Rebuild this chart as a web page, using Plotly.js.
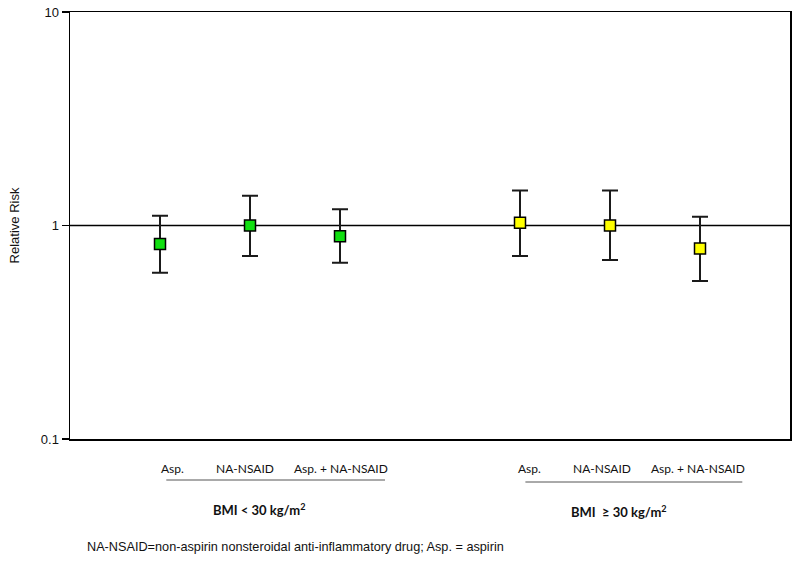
<!DOCTYPE html>
<html>
<head>
<meta charset="utf-8">
<script src="https://cdn.plot.ly/plotly-3.0.1.min.js"></script>
<style>html,body{margin:0;padding:0;background:#fff;}#chart{width:800px;height:576px;}</style>
</head>
<body>
<div id="chart"></div>
<script>
// Categories and labels
const categories = ['Asp.', 'NA-NSAID', 'Asp. + NA-NSAID'];
const groupLabels = ['BMI < 30 kg/m<sup>2</sup>', 'BMI  \u2265 30 kg/m<sup>2</sup>'];
const footnote = 'NA-NSAID=non-aspirin nonsteroidal anti-inflammatory drug; Asp. = aspirin';

// BMI < 30 kg/m2
const rrLow = [0.82, 1.00, 0.89];
const ciLowLower = [0.60, 0.72, 0.67];
const ciLowUpper = [1.11, 1.38, 1.19];

// BMI >= 30 kg/m2
const rrHigh = [1.03, 1.00, 0.78];
const ciHighLower = [0.72, 0.69, 0.55];
const ciHighUpper = [1.46, 1.46, 1.10];

// y-axis ticks
const yTickVals = [0.1, 1, 10];
const yTickText = ['0.1', '1', '10'];

const xLow = [1, 2, 3];
const xHigh = [5, 6, 7];

function trace(xs, rr, lo, hi, color) {
  return {
    type: 'scatter', mode: 'markers', x: xs, y: rr,
    marker: {symbol: 'square', size: 11, color: color, line: {color: '#000', width: 1.5}},
    error_y: {
      type: 'data', symmetric: false,
      array: rr.map((v, i) => hi[i] - v),
      arrayminus: rr.map((v, i) => v - lo[i]),
      color: '#1a1a1a', thickness: 2, width: 8
    },
    showlegend: false, hoverinfo: 'skip'
  };
}

const data = [
  trace(xLow, rrLow, ciLowLower, ciLowUpper, '#11e011'),
  trace(xHigh, rrHigh, ciHighLower, ciHighUpper, '#ffff00')
];

// pixel -> paper helpers for the 427px tall plot area (top at 12px)
const plotTop = 12, plotH = 427, plotLeft = 70, plotW = 720;
const py = (pix) => (plotTop + plotH - pix) / plotH;
const px = (pix) => (pix - plotLeft) / plotW;

const labelShift = [12, -5, 1, 9, -8, -2];
const catFont = {family: 'Lato, "Open Sans", sans-serif', size: 12, color: '#111'};
const annotations = [];
[xLow, xHigh].forEach((xs, g) => {
  xs.forEach((x, i) => {
    annotations.push({
      x: x, y: py(468), xref: 'x', yref: 'paper', yanchor: 'middle', text: categories[i],
      showarrow: false, xshift: labelShift[g * 3 + i], font: catFont
    });
  });
});
const grpFont = {family: 'Lato, "Open Sans", sans-serif', size: 13, color: '#111'};
annotations.push({x: 2.1, y: py(509), xref: 'x', yref: 'paper', yanchor: 'middle', text: '<b>' + groupLabels[0] + '</b>', showarrow: false, font: grpFont});
annotations.push({x: 6.1, y: py(511), xref: 'x', yref: 'paper', yanchor: 'middle', text: '<b>' + groupLabels[1] + '</b>', showarrow: false, font: grpFont});
annotations.push({x: px(85), y: py(547), xref: 'paper', yref: 'paper', xanchor: 'left', yanchor: 'middle',
  text: footnote, showarrow: false,
  font: {family: '"Liberation Sans", Arial, sans-serif', size: 12.7, color: '#111'}});

const layout = {
  width: 800, height: 576,
  margin: {l: 70, r: 10, t: 12, b: 137},
  paper_bgcolor: '#fff', plot_bgcolor: '#fff',
  font: {family: '"Liberation Sans", Arial, sans-serif', size: 12, color: '#111'},
  xaxis: {
    range: [0, 8], showticklabels: false, ticks: '', showgrid: false, zeroline: false,
    showline: true, mirror: true, linecolor: '#000', linewidth: 1.5, fixedrange: true
  },
  yaxis: {
    type: 'log', range: [-1, 1], tickvals: yTickVals, ticktext: yTickText,
    ticks: 'outside', ticklen: 7, tickwidth: 1.5, tickcolor: '#000',
    showgrid: false, zeroline: false, showline: true, mirror: true,
    linecolor: '#000', linewidth: 1.5,
    tickfont: {size: 13, color: '#111'},
    title: {text: 'Relative Risk', font: {size: 13, color: '#111'}, standoff: 18}
  },
  shapes: [
    {type: 'line', xref: 'paper', yref: 'y', x0: 0, x1: 1, y0: 1, y1: 1, line: {color: '#000', width: 1.5}, layer: 'below'},
    {type: 'line', xref: 'x', yref: 'paper', x0: 1.07, x1: 3.5, y0: py(480), y1: py(480), line: {color: '#555', width: 1}},
    {type: 'line', xref: 'x', yref: 'paper', x0: 5.06, x1: 7.47, y0: py(482), y1: py(482), line: {color: '#555', width: 1}}
  ],
  annotations: annotations
};

Plotly.newPlot('chart', data, layout, {displayModeBar: false, staticPlot: true});
</script>
</body>
</html>
